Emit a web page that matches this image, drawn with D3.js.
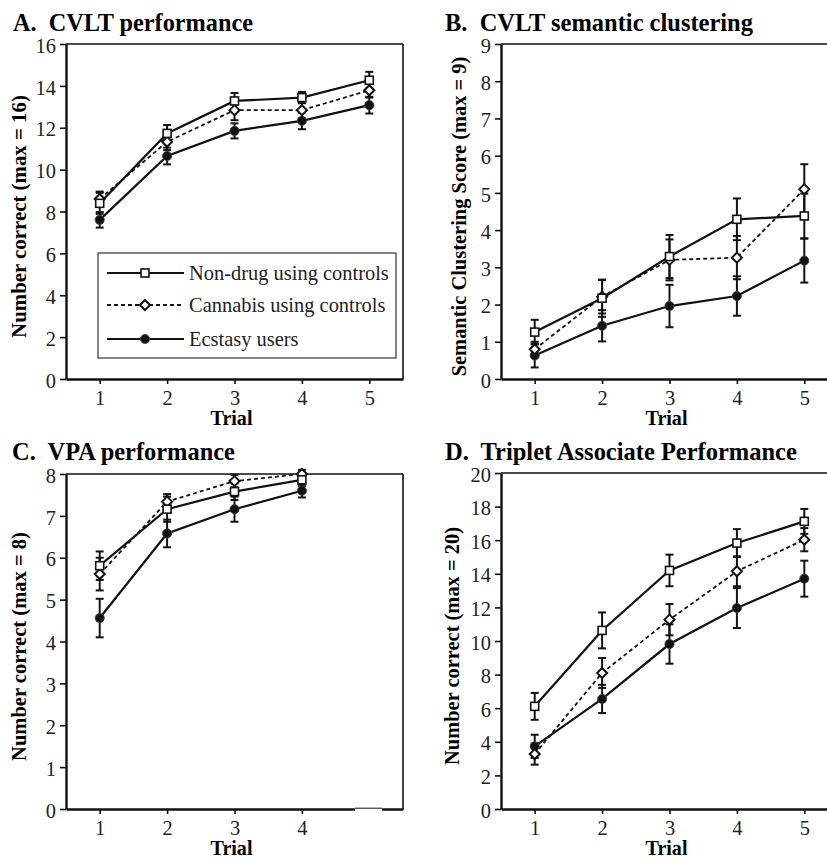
<!DOCTYPE html>
<html>
<head>
<meta charset="utf-8">
<script src="https://cdn.jsdelivr.net/npm/d3@7"></script>
<style>
  body { margin: 0; background: #fff; }
  svg { display: block; }
  svg text { font-family: "Liberation Serif", "Tinos", "Times New Roman", "Nimbus Roman", "DejaVu Serif", serif; }
</style>
</head>
<body>
<script>
// groups shown in every panel
var seriesNames = ["Non-drug using controls", "Cannabis using controls", "Ecstasy users"];
var trials5 = [1, 2, 3, 4, 5];
var trials4 = [1, 2, 3, 4];

// A. CVLT performance
var cvltNondrug = [8.39, 11.73, 13.28, 13.44, 14.27];
var cvltNondrugSE = [0.5, 0.4, 0.38, 0.27, 0.4];
var cvltCannabis = [8.6, 11.33, 12.84, 12.84, 13.79];
var cvltCannabisSE = [0.35, 0.4, 0.48, 0.4, 0.35];
var cvltEcstasy = [7.6, 10.65, 11.85, 12.33, 13.08];
var cvltEcstasySE = [0.37, 0.4, 0.36, 0.4, 0.4];
var cvltTicks = [0, 2, 4, 6, 8, 10, 12, 14, 16];

// B. CVLT semantic clustering
var clustNondrug = [1.26, 2.17, 3.29, 4.29, 4.38];
var clustNondrugSE = [0.33, 0.5, 0.58, 0.56, 0.6];
var clustCannabis = [0.8, 2.21, 3.2, 3.26, 5.1];
var clustCannabisSE = [0.2, 0.45, 0.55, 0.58, 0.67];
var clustEcstasy = [0.63, 1.43, 1.96, 2.23, 3.18];
var clustEcstasySE = [0.32, 0.42, 0.57, 0.53, 0.59];
var clustTicks = [0, 1, 2, 3, 4, 5, 6, 7, 8, 9];

// C. VPA performance
var vpaNondrug = [5.81, 7.16, 7.58, 7.86];
var vpaNondrugSE = [0.34, 0.3, 0.2, 0.15];
var vpaCannabis = [5.61, 7.34, 7.83, 8.0];
var vpaCannabisSE = [0.39, 0.18, 0.15, 0.1];
var vpaEcstasy = [4.56, 6.58, 7.16, 7.6];
var vpaEcstasySE = [0.46, 0.33, 0.3, 0.16];
var vpaTicks = [0, 1, 2, 3, 4, 5, 6, 7, 8];

// D. Triplet Associate Performance
var tripNondrug = [6.11, 10.63, 14.2, 15.83, 17.12];
var tripNondrugSE = [0.8, 1.07, 0.94, 0.83, 0.74];
var tripCannabis = [3.27, 8.1, 11.27, 14.15, 16.03];
var tripCannabisSE = [0.63, 0.89, 0.93, 0.89, 0.69];
var tripEcstasy = [3.73, 6.55, 9.82, 11.96, 13.71];
var tripEcstasySE = [0.69, 0.84, 1.17, 1.19, 1.07];
var tripTicks = [0, 2, 4, 6, 8, 10, 12, 14, 16, 18, 20];

function makeSeries(trials, nd, ndSE, ca, caSE, ec, ecSE) {
  function pts(v, se) {
    return trials.map(function(t, i) { return {x: t, y: v[i], se: se[i]}; });
  }
  // drawing order: ecstasy, cannabis, then non-drug on top
  return [
    {kind: "ecstasy", pts: pts(ec, ecSE)},
    {kind: "cannabis", pts: pts(ca, caSE)},
    {kind: "nondrug", pts: pts(nd, ndSE)}
  ];
}

var panels = [
  {title: "A.\u00a0 CVLT performance", titleW: 240,
   ylabel: "Number correct (max = 16)", ylabW: 243,
   left: 66, top: 44, bottom: 379, ymax: 16, yticks: cvltTicks, xticks: trials5,
   titleX: 13, titleY: 31, ylabX: 26,
   series: makeSeries(trials5, cvltNondrug, cvltNondrugSE, cvltCannabis, cvltCannabisSE, cvltEcstasy, cvltEcstasySE),
   legend: true},
  {title: "B.\u00a0 CVLT semantic clustering", titleW: 308,
   ylabel: "Semantic Clustering Score (max = 9)", ylabW: 320,
   left: 501, top: 44, bottom: 379, ymax: 9, yticks: clustTicks, xticks: trials5,
   titleX: 445, titleY: 31, ylabX: 466,
   series: makeSeries(trials5, clustNondrug, clustNondrugSE, clustCannabis, clustCannabisSE, clustEcstasy, clustEcstasySE)},
  {title: "C.\u00a0 VPA performance", titleW: 223,
   ylabel: "Number correct (max = 8)", ylabW: 229,
   left: 66, top: 474, bottom: 809, ymax: 8, yticks: vpaTicks, xticks: trials4,
   titleX: 12, titleY: 460, ylabX: 26,
   series: makeSeries(trials4, vpaNondrug, vpaNondrugSE, vpaCannabis, vpaCannabisSE, vpaEcstasy, vpaEcstasySE),
   gap: true},
  {title: "D.\u00a0 Triplet Associate Performance", titleW: 352,
   ylabel: "Number correct (max = 20)", ylabW: 238,
   left: 501, top: 473, bottom: 809, ymax: 20, yticks: tripTicks, xticks: trials5,
   titleX: 445, titleY: 460, ylabX: 459,
   series: makeSeries(trials5, tripNondrug, tripNondrugSE, tripCannabis, tripCannabisSE, tripEcstasy, tripEcstasySE)}
];

var plotWidth = 337;

var svg = d3.select("body")
  .append("svg")
    .attr("width", 827)
    .attr("height", 858);

// scale a text's font so it spans the width it has in the original figure
function fitWidth(sel, size, w) {
  sel.attr("font-size", size);
  var len = sel.node().getComputedTextLength();
  var s = size * w / len;
  sel.attr("font-size", Math.min(s, size * 1.25));
  return s;
}

// measure the body font once so tick labels follow the legend text size
var probe = svg.append("text").attr("font-size", 20).text("Non-drug using controls");
var bodySize = Math.min(20 * 200 / probe.node().getComputedTextLength(), 20.5);
probe.remove();

function drawMarker(g, kind, x, y) {
  if (kind === "nondrug") {
    g.append("rect")
      .attr("x", x - 4).attr("y", y - 4)
      .attr("width", 8).attr("height", 8)
      .attr("fill", "#fff").attr("stroke", "#111").attr("stroke-width", 1.6);
  } else if (kind === "cannabis") {
    g.append("path")
      .attr("d", "M" + x + "," + (y - 5) + "L" + (x + 5) + "," + y + "L" + x + "," + (y + 5) + "L" + (x - 5) + "," + y + "Z")
      .attr("fill", "#fff").attr("stroke", "#111").attr("stroke-width", 2);
  } else {
    g.append("circle")
      .attr("cx", x).attr("cy", y).attr("r", 4.6)
      .attr("fill", "#111").attr("stroke", "#444").attr("stroke-width", 0.8);
  }
}

panels.forEach(function(p) {
  var x = d3.scaleLinear().domain([0.5, 5.5]).range([p.left, p.left + plotWidth]);
  var y = d3.scaleLinear().domain([0, p.ymax]).range([p.bottom, p.top]);
  var g = svg.append("g");

  // title
  var t = g.append("text")
    .attr("x", p.titleX).attr("y", p.titleY)
    .attr("font-weight", "bold")
    .style("white-space", "pre")
    .text(p.title);
  fitWidth(t, 23, p.titleW);

  // frame top / right
  g.append("line")
    .attr("x1", p.left).attr("x2", p.left + plotWidth)
    .attr("y1", p.top).attr("y2", p.top)
    .attr("stroke", "#111").attr("stroke-width", 1.6);
  g.append("line")
    .attr("x1", p.left + plotWidth).attr("x2", p.left + plotWidth)
    .attr("y1", p.top).attr("y2", p.bottom)
    .attr("stroke", "#111").attr("stroke-width", 1.6);

  // axes
  var yAxis = g.append("g")
    .attr("transform", "translate(" + p.left + ",0)")
    .call(d3.axisLeft(y).tickValues(p.yticks).tickFormat(d3.format("d"))
      .tickSize(6).tickPadding(4).tickSizeOuter(0));
  var xAxis = g.append("g")
    .attr("transform", "translate(0," + p.bottom + ")")
    .call(d3.axisBottom(x).tickValues(p.xticks).tickFormat(d3.format("d"))
      .tickSize(5).tickPadding(6).tickSizeOuter(0));
  [yAxis, xAxis].forEach(function(a) {
    a.attr("font-family", null);
    a.select(".domain").attr("stroke", "#111").attr("stroke-width", 2.4);
    a.selectAll(".tick line").attr("stroke", "#111").attr("stroke-width", 1.6);
    a.selectAll(".tick text")
      .attr("font-size", bodySize).attr("fill", "#222");
  });
  yAxis.selectAll(".tick text").attr("dy", "0.4em");

  // bottom line of panel C has a blanked piece where trial 5 was
  if (p.gap) {
    g.append("rect")
      .attr("x", 355).attr("y", p.bottom - 2)
      .attr("width", 27).attr("height", 6)
      .attr("fill", "#fff");
    g.append("line")
      .attr("x1", 355).attr("x2", 382)
      .attr("y1", p.bottom - 0.8).attr("y2", p.bottom - 0.8)
      .attr("stroke", "#111").attr("stroke-width", 1);
  }

  // axis titles
  var tr = g.append("text")
    .attr("x", (p.left + p.left + plotWidth) / 2 - 3).attr("y", p.bottom + 46)
    .attr("text-anchor", "middle")
    .attr("font-weight", "bold")
    .text("Trial");
  fitWidth(tr, 20, 42);
  var yl = g.append("text")
    .attr("transform", "translate(" + p.ylabX + "," + ((p.top + p.bottom) / 2 + 5) + ") rotate(-90)")
    .attr("text-anchor", "middle")
    .attr("font-weight", "bold")
    .text(p.ylabel);
  fitWidth(yl, 20, p.ylabW);

  var line = d3.line()
    .x(function(d) { return x(d.x); })
    .y(function(d) { return y(d.y); });

  // lines
  p.series.forEach(function(s) {
    g.append("path")
      .datum(s.pts)
      .attr("d", line)
      .attr("fill", "none")
      .attr("stroke", "#111")
      .attr("stroke-width", s.kind === "cannabis" ? 1.8 : 2.2)
      .attr("stroke-dasharray", s.kind === "cannabis" ? "4,3" : null);
  });

  // error bars
  p.series.forEach(function(s) {
    s.pts.forEach(function(d) {
      var cx = x(d.x), hi = y(d.y + d.se), lo = y(d.y - d.se);
      g.append("line")
        .attr("x1", cx).attr("x2", cx).attr("y1", hi).attr("y2", lo)
        .attr("stroke", "#111").attr("stroke-width", 2);
      [hi, lo].forEach(function(yy) {
        g.append("line")
          .attr("x1", cx - 4).attr("x2", cx + 4).attr("y1", yy).attr("y2", yy)
          .attr("stroke", "#111").attr("stroke-width", 2);
      });
    });
  });

  // markers
  p.series.forEach(function(s) {
    s.pts.forEach(function(d) {
      drawMarker(g, s.kind, x(d.x), y(d.y));
    });
  });

  // legend (panel A only)
  if (p.legend) {
    var lg = g.append("g");
    lg.append("rect")
      .attr("x", 98).attr("y", 253)
      .attr("width", 298).attr("height", 105)
      .attr("fill", "#fff").attr("stroke", "#333").attr("stroke-width", 1.2);
    var kinds = ["nondrug", "cannabis", "ecstasy"];
    var rowY = [273, 305, 339];
    kinds.forEach(function(k, i) {
      lg.append("line")
        .attr("x1", 107).attr("x2", 184)
        .attr("y1", rowY[i]).attr("y2", rowY[i])
        .attr("stroke", "#111")
        .attr("stroke-width", k === "cannabis" ? 1.8 : 2.2)
        .attr("stroke-dasharray", k === "cannabis" ? "4,3" : null);
      drawMarker(lg, k, 145, rowY[i]);
      lg.append("text")
        .attr("x", 189).attr("y", rowY[i] + 7)
        .attr("font-size", bodySize).attr("fill", "#222")
        .text(seriesNames[i]);
    });
  }
});
</script>
</body>
</html>
